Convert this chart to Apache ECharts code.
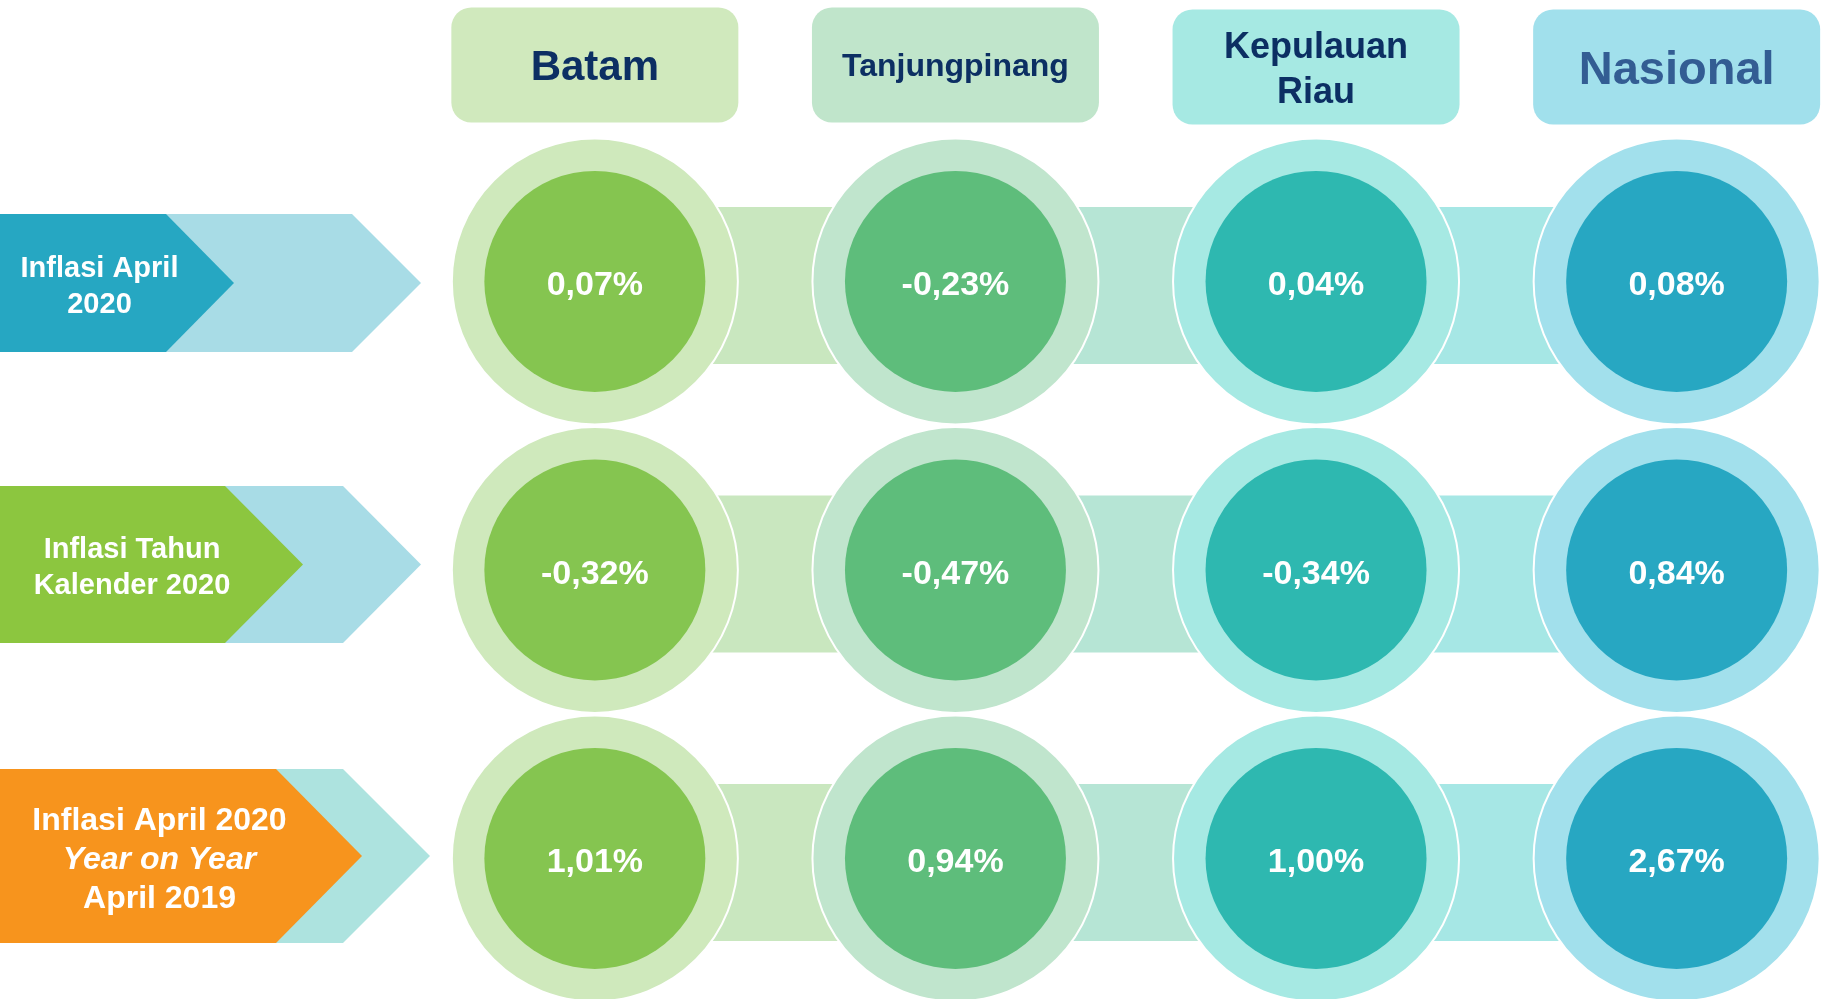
<!DOCTYPE html>
<html>
<head>
<meta charset="utf-8">
<title>Inflasi April 2020</title>
<script src="https://cdn.jsdelivr.net/npm/echarts@6/dist/echarts.min.js"></script>
<style>
  html, body { margin: 0; padding: 0; background: #fff; }
  #chart { width: 1828px; height: 999px; }
</style>
</head>
<body>
<div id="chart"></div>
<script>
// data
const regions = ['Batam', 'Tanjungpinang', 'Kepulauan Riau', 'Nasional']
const periods = ['Inflasi April\n2020', 'Inflasi Tahun\nKalender 2020', 'Inflasi April 2020\nYear on Year\nApril 2019']
const inflasiApril = [0.07, -0.23, 0.04, 0.08]
const inflasiKalender = [-0.32, -0.47, -0.34, 0.84]
const inflasiYoy = [1.01, 0.94, 1.0, 2.67]

const FONT = '"Liberation Sans", Arial, sans-serif'
const HEADER_Y = 0.25 // header row sits above the first period row

// kolom: warna per wilayah
const colStyle = [
  { box: '#d0e9bd', outer: '#cfe9bc', inner: '#85c550', bar: '#c9e7bf', text: '#0c2f63', size: 42, dy: 3, boxDy: 0 },
  { box: '#c0e5cb', outer: '#c0e5cd', inner: '#5ebd7b', bar: '#b6e5d5', text: '#0c2f63', size: 32, dy: 2.5, boxDy: 0 },
  { box: '#a6e9e3', outer: '#a6e9e3', inner: '#2eb8b0', bar: '#a6e7e5', text: '#0c2f63', size: 36, lh: 45, dy: 6, boxDy: 2 },
  { box: '#a1e0ec', outer: '#a2e0ec', inner: '#27a7c2', text: '#335d93', size: 47, dy: 6, boxDy: 2 }
]

// baris: panah di kiri
const rowStyle = [
  { dark: '#26a7c2', light: '#a8dce6', dy: 1.5, half: 69, darkR: 166, darkTip: 234, lightR: 352, lightTip: 421, tx: 99.5, size: 29, lh: 36 },
  { dark: '#8cc63f', light: '#a8dce6', dy: -5.5, half: 78.5, darkR: 225, darkTip: 303, lightR: 343, lightTip: 421, tx: 132, size: 29, lh: 36 },
  { dark: '#f7941d', light: '#ade3df', dy: -2.5, half: 87, darkR: 276, darkTip: 362, lightR: 343, lightTip: 430, tx: 159.5, size: 32, lh: 39 }
]

const rows = [inflasiApril, inflasiKalender, inflasiYoy]

const fmt = (v) => v.toFixed(2).replace('.', ',') + '%'

const valueData = []
rows.forEach((vals, r) => {
  vals.forEach((v, c) => {
    valueData.push([c, r + 1, v])
  })
})

const barData = []
for (let r = 1; r <= 3; r++) {
  for (let c = 0; c < regions.length - 1; c++) {
    barData.push([c, r])
  }
}

const renderBar = (params, api) => {
  const c = api.value(0)
  const p0 = api.coord([c, api.value(1)])
  const p1 = api.coord([c + 1, api.value(1)])
  return {
    type: 'rect',
    shape: { x: p0[0], y: p0[1] + 4 - 78.5, width: p1[0] - p0[0], height: 157 },
    style: { fill: colStyle[c].bar }
  }
}

const renderCircle = (params, api) => {
  const c = api.value(0)
  const p = api.coord([c, api.value(1)])
  const s = colStyle[c]
  return {
    type: 'group',
    children: [
      { type: 'circle', shape: { cx: p[0], cy: p[1], r: 143 }, style: { fill: s.outer, stroke: '#ffffff', lineWidth: 2 } },
      { type: 'circle', shape: { cx: p[0], cy: p[1], r: 110.5 }, style: { fill: s.inner } },
      {
        type: 'text',
        style: {
          x: p[0], y: p[1] + 4.5, text: fmt(api.value(2)), fill: '#ffffff',
          font: 'bold 34px ' + FONT, align: 'center', verticalAlign: 'middle'
        }
      }
    ]
  }
}

const renderHeader = (params, api) => {
  const c = api.value(0)
  const p = api.coord([c, api.value(1)])
  const s = colStyle[c]
  const name = regions[c] === 'Kepulauan Riau' ? 'Kepulauan\nRiau' : regions[c]
  return {
    type: 'group',
    children: [
      { type: 'rect', shape: { x: p[0] - 143.5, y: p[1] - 57.5 + s.boxDy, width: 287, height: 115, r: 20 }, style: { fill: s.box } },
      {
        type: 'text',
        style: {
          x: p[0], y: p[1] + s.dy, text: name, fill: s.text,
          font: 'bold ' + s.size + 'px ' + FONT, lineHeight: s.lh || s.size,
          align: 'center', verticalAlign: 'middle'
        }
      }
    ]
  }
}

const renderArrow = (params, api) => {
  const r = api.value(1) - 1
  const s = rowStyle[r]
  const cy = api.coord([0, api.value(1)])[1] + s.dy
  const top = cy - s.half
  const bot = cy + s.half
  let text = periods[r]
  let rich = {}
  if (r === 2) {
    const parts = text.split('\n')
    text = '{b|' + parts[0] + '}\n{i|' + parts[1] + '}\n{b|' + parts[2] + '}'
    rich = {
      b: { fill: '#fff', font: 'bold ' + s.size + 'px ' + FONT, lineHeight: s.lh },
      i: { fill: '#fff', font: 'italic bold ' + s.size + 'px ' + FONT, lineHeight: s.lh }
    }
  }
  return {
    type: 'group',
    children: [
      {
        type: 'polygon',
        shape: { points: [[0, top], [s.lightR, top], [s.lightTip, cy], [s.lightR, bot], [0, bot]] },
        style: { fill: s.light }
      },
      {
        type: 'polygon',
        shape: { points: [[0, top], [s.darkR, top], [s.darkTip, cy], [s.darkR, bot], [0, bot]] },
        style: { fill: s.dark }
      },
      {
        type: 'text',
        style: {
          x: s.tx, y: cy + 4, text: text, rich: rich, fill: '#fff',
          font: 'bold ' + s.size + 'px ' + FONT, lineHeight: s.lh,
          align: 'center', verticalAlign: 'middle'
        }
      }
    ]
  }
}

const myChart = echarts.init(document.getElementById('chart'))
// grid kept inside the canvas; column step 360.6px, row step 288.5px
const option = {
  animation: false,
  backgroundColor: '#ffffff',
  grid: { left: 414.55, width: 1388.3, top: 65, height: 923.2 },
  xAxis: { type: 'value', min: -0.5, max: 3.35, show: false },
  yAxis: { type: 'value', inverse: true, min: 0.25, max: 3.45, show: false },
  series: [
    { type: 'custom', name: 'penghubung', data: barData, renderItem: renderBar, z: 1, silent: true },
    { type: 'custom', name: 'periode', data: [[0, 1], [0, 2], [0, 3]], renderItem: renderArrow, z: 2, silent: true },
    { type: 'custom', name: 'wilayah', data: regions.map((r, i) => [i, HEADER_Y]), renderItem: renderHeader, z: 2, silent: true },
    { type: 'custom', name: 'inflasi', data: valueData, renderItem: renderCircle, z: 3, silent: true }
  ]
}
myChart.setOption(option)
</script>
</body>
</html>
